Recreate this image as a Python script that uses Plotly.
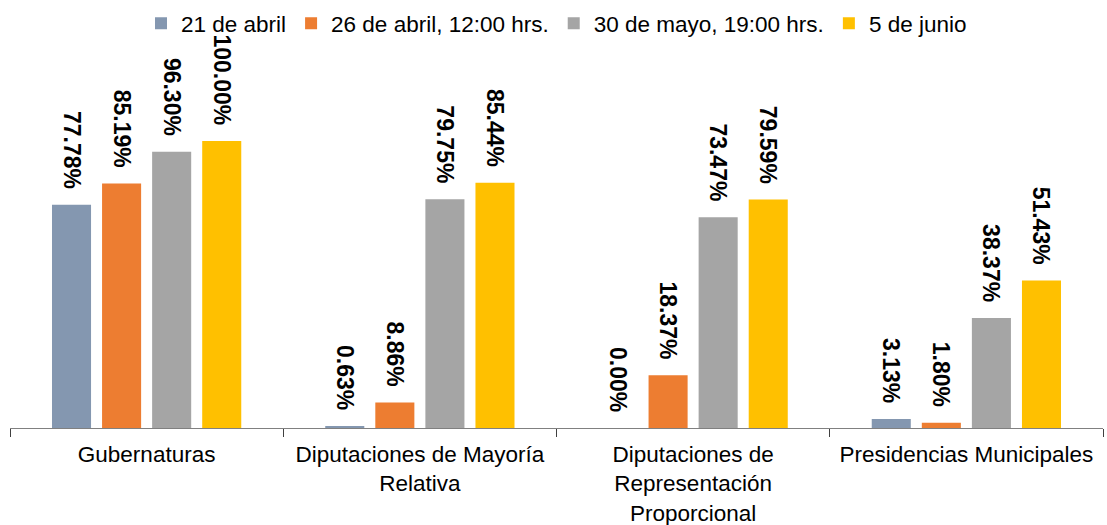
import plotly.graph_objects as go

categories = [
    "Gubernaturas",
    "Diputaciones de Mayoría<br>Relativa",
    "Diputaciones de<br>Representación<br>Proporcional",
    "Presidencias Municipales",
]
series_names = ["21 de abril", "26 de abril, 12:00 hrs.", "30 de mayo, 19:00 hrs.", "5 de junio"]
s_21_abril = [77.78, 0.63, 0.00, 3.13]
s_26_abril = [85.19, 8.86, 18.37, 1.80]
s_30_mayo = [96.30, 79.75, 73.47, 38.37]
s_5_junio = [100.00, 85.44, 79.59, 51.43]
colors = ["#8497B0", "#ED7D31", "#A5A5A5", "#FFC000"]

fig = go.Figure()
for name, vals, col in zip(series_names, [s_21_abril, s_26_abril, s_30_mayo, s_5_junio], colors):
    fig.add_trace(go.Bar(
        x=categories, y=vals, name=name,
        marker=dict(color=col, line=dict(width=0)),
        text=[f"{v:.2f}%\u00a0\u00a0" for v in vals],
        textposition="outside", textangle=90,
        textfont=dict(family="Liberation Sans, Arial", size=23, color="#000000", weight="bold"),
        constraintext="none", cliponaxis=False,
    ))

fig.update_layout(
    width=1107, height=525,
    margin=dict(l=10, r=4, t=30, b=97, autoexpand=False),
    paper_bgcolor="white", plot_bgcolor="white",
    barmode="group", bargap=0.267, bargroupgap=0.22,
    font=dict(family="Liberation Sans, Arial", size=22.5, color="#000000"),
    showlegend=True,
    legend=dict(orientation="h", x=0.5, xanchor="center", yref="container", y=0.955, yanchor="middle",
                font=dict(size=22.5), itemwidth=30, traceorder="normal",
                bgcolor="rgba(0,0,0,0)"),
    xaxis=dict(showline=True, linecolor="#808080", linewidth=1, ticks="outside", ticklen=8,
               tickcolor="#404040", tickson="boundaries", showgrid=False, ticklabelstandoff=6,
               automargin=False),
    yaxis=dict(range=[0, 138.7], visible=False, showgrid=False, zeroline=False, automargin=False),
)

fig.write_html("out.html", config={"displayModeBar": False},
               post_script="document.body.style.margin='0';document.body.style.padding='0';")
